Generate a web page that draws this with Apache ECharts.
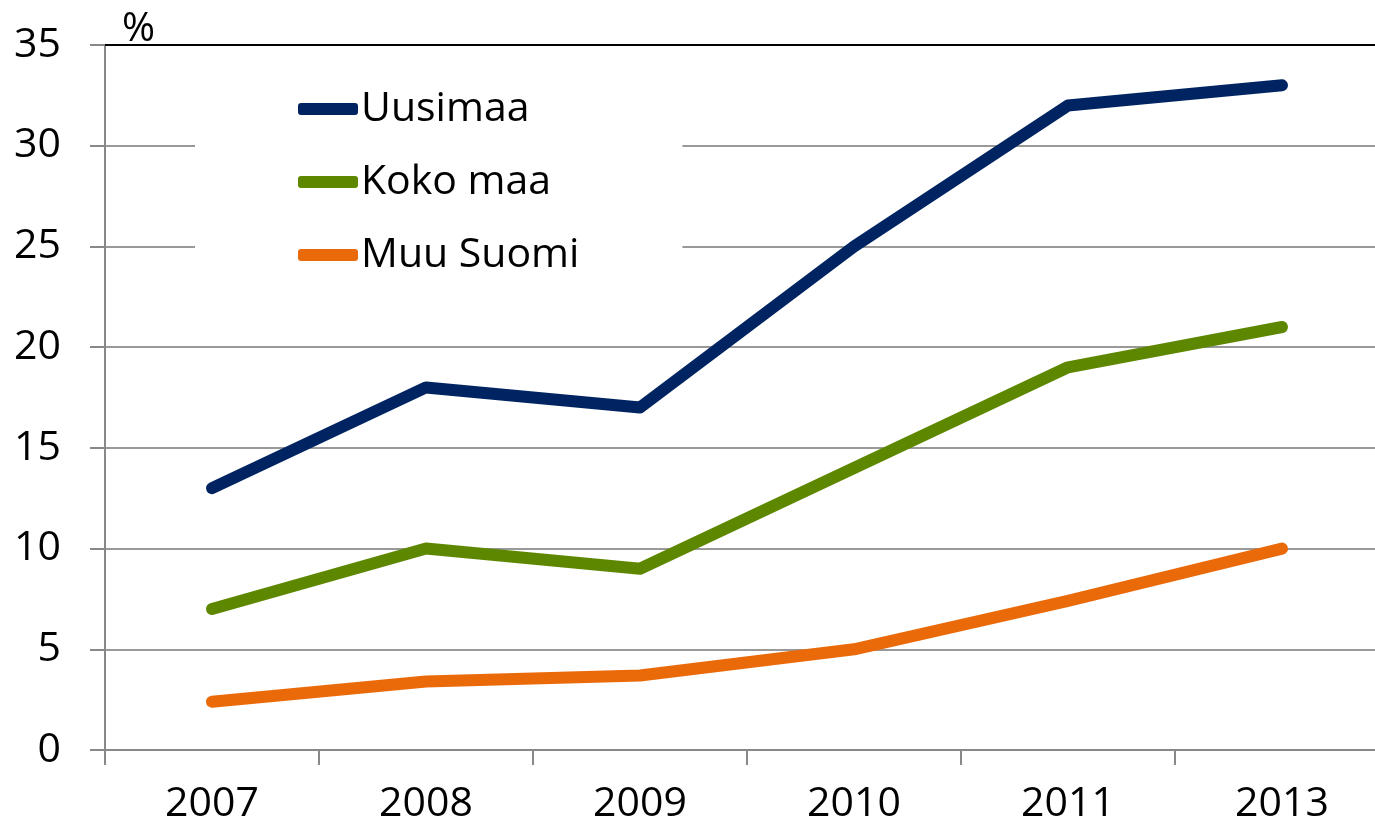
<!doctype html>
<html lang="fi">
<head>
    <meta charset="UTF-8">
    <title>Uusimaa / Koko maa / Muu Suomi</title>
    <script src="https://cdn.jsdelivr.net/npm/echarts@6/dist/echarts.min.js"></script>
    <style>
        html, body { margin: 0; padding: 0; background: #fff; }
        #main { width: 1375px; height: 830px; }
    </style>
</head>
<body>
<div id="main"></div>
<script>
    var years = ['2007', '2008', '2009', '2010', '2011', '2013'];
    var uusimaa = [13, 18, 17, 25, 32, 33];
    var kokoMaa = [7, 10, 9, 14, 19, 21];
    var muuSuomi = [2.4, 3.4, 3.7, 5, 7.4, 10];
    var seriesNames = ['Uusimaa', 'Koko maa', 'Muu Suomi'];

    var font = "'Open Sans', 'Liberation Sans', sans-serif";

    function lineSeries(name, data, color) {
        return {
            name: name,
            type: 'line',
            data: data,
            showSymbol: false,
            symbol: 'none',
            color: color,
            lineStyle: { width: 12, color: color, cap: 'round', join: 'round' },
            z: 3
        };
    }

    var myChart = echarts.init(document.getElementById('main'));
    var option = {
        backgroundColor: '#fff',
        animation: false,
        title: {
            text: '%',
            left: 117,
            top: 5,
            textStyle: { fontFamily: font, fontSize: 40, fontWeight: 'normal', color: '#000' }
        },
        legend: {
            data: seriesNames,
            orient: 'vertical',
            left: 195,
            top: 65,
            padding: [22, 103, 22, 103],
            backgroundColor: '#fff',
            icon: 'roundRect',
            itemWidth: 60,
            itemHeight: 12,
            itemGap: 29,
            textStyle: { fontFamily: font, fontSize: 41, lineHeight: 44, color: '#000', padding: [0, 0, 0, -2] },
            z: 5
        },
        // plot runs a little past the right edge of the canvas, like the original
        grid: { left: 105, top: 45, bottom: 80, width: 1284, outerBoundsMode: 'none', containLabel: false },
        xAxis: [
            {
                type: 'category',
                data: years,
                boundaryGap: true,
                axisLine: { lineStyle: { color: '#888', width: 2 } },
                axisTick: { show: true, length: 15, lineStyle: { color: '#888', width: 2 } },
                axisLabel: { fontFamily: font, fontSize: 41, color: '#000', margin: 34 }
            },
            {
                type: 'category',
                position: 'top',
                data: years,
                axisLine: { show: true, lineStyle: { color: '#000', width: 2 } },
                axisTick: { show: false },
                axisLabel: { show: false }
            }
        ],
        yAxis: {
            type: 'value',
            min: 0,
            max: 35,
            interval: 5,
            axisLine: { show: true, lineStyle: { color: '#888', width: 2 } },
            axisTick: { show: true, inside: false, length: 15, lineStyle: { color: '#888', width: 2 } },
            axisLabel: { fontFamily: font, fontSize: 41, color: '#000', margin: 44 },
            splitLine: { show: true, lineStyle: { color: '#999', width: 2 } }
        },
        series: [
            lineSeries(seriesNames[0], uusimaa, '#002461'),
            lineSeries(seriesNames[1], kokoMaa, '#5e8700'),
            lineSeries(seriesNames[2], muuSuomi, '#ea6a0a')
        ]
    };
    myChart.setOption(option);
</script>
</body>
</html>
